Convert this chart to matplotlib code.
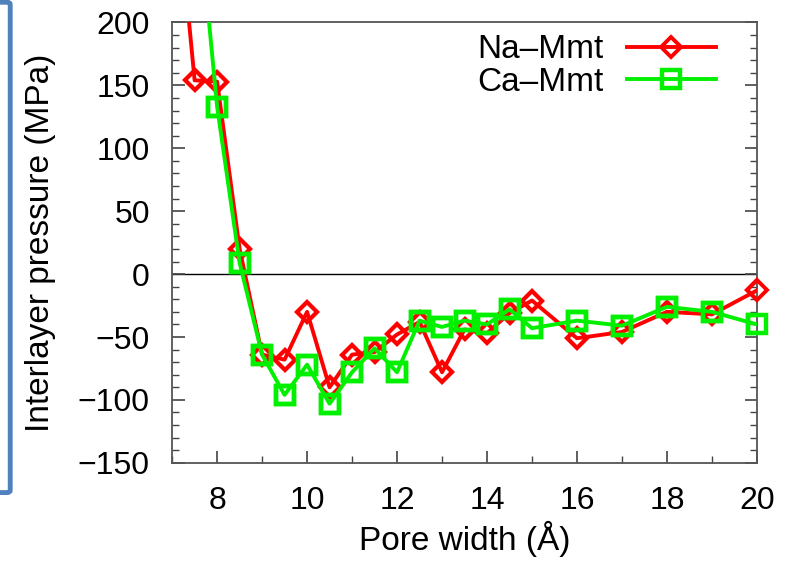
import matplotlib
matplotlib.use('Agg')
import matplotlib.pyplot as plt
from matplotlib.patches import FancyBboxPatch
from matplotlib.ticker import MultipleLocator

plt.rcParams['font.family'] = ['Liberation Sans', 'DejaVu Sans']

# pore width (Angstrom) and interlayer pressure (MPa)
na_x = [7.0, 7.5, 8.0, 8.5, 9.0, 9.5, 10.0, 10.5, 11.0, 11.5, 12.0, 12.5, 13.0,
        13.5, 14.0, 14.5, 15.0, 16.0, 17.0, 18.0, 19.0, 20.0]
na_p = [340, 154, 153, 20, -64, -68, -30, -90, -64, -62, -48, -38, -78,
        -44, -47, -31, -21, -51, -46, -30, -32, -13]

ca_x = [7.5, 8.0, 8.5, 9.0, 9.5, 10.0, 10.5, 11.0, 11.5, 12.0, 12.5, 13.0,
        13.5, 14.0, 14.5, 15.0, 16.0, 17.0, 18.0, 19.0, 20.0]
ca_p = [320, 133, 9, -64, -96, -72, -103, -78, -59, -78, -37, -42,
        -37, -40, -28, -43, -37, -41, -26, -30, -40]

x_ticks = [8, 10, 12, 14, 16, 18, 20]
y_ticks = [-150, -100, -50, 0, 50, 100, 150, 200]
y_min, y_max = -150, 200

fig = plt.figure(figsize=(7.86, 5.61), dpi=100)
ax = fig.add_axes([0.219, 0.175, 0.744, 0.785])

ax.axhline(0, color='black', lw=1.0, zorder=1)

series = [
    (na_x, na_p, '#ff0000', 'D', 10, 2.8, 'Na\u2013Mmt', 3),
    (ca_x, ca_p, '#00f000', 's', 13, 3.2, 'Ca\u2013Mmt', 4),
]
for xs, ps, col, mk, ms, mew, lab, z in series:
    ax.plot(xs, ps, color=col, lw=2.8, marker=mk, markersize=ms,
            markerfacecolor='none', markeredgewidth=mew, label=lab, zorder=z)
    # markers inside the y range are drawn unclipped so the ones on the frame show whole
    keep = [i for i, p in enumerate(ps) if y_min <= p <= y_max]
    ax.plot([xs[i] for i in keep], [ps[i] for i in keep], ls='none', marker=mk,
            markersize=ms, markerfacecolor='none', markeredgecolor=col,
            markeredgewidth=mew, clip_on=False, zorder=z)

ax.set_xlim(7, 20)
ax.set_ylim(y_min, y_max)
ax.set_xticks(x_ticks)
ax.set_yticks(y_ticks)
ax.xaxis.set_minor_locator(MultipleLocator(1))
ax.yaxis.set_minor_locator(MultipleLocator(10))
ax.tick_params(which='both', direction='in', top=False, right=True,
               labelsize=23, color='#444444')
ax.tick_params(axis='y', pad=16)
ax.tick_params(axis='x', pad=17)
ax.tick_params(which='major', length=9, width=1.2)
ax.tick_params(which='minor', length=5, width=1.0)
for s in ax.spines.values():
    s.set_color('#555555')
    s.set_linewidth(1.3)

ax.set_xlabel('Pore width (\u00c5)', fontsize=24, labelpad=3)
ax.set_ylabel('Interlayer pressure (MPa)', fontsize=24, labelpad=16)

ax.legend(loc='upper right', frameon=False, fontsize=24, markerfirst=False,
          handlelength=2.65, handletextpad=0.7, labelspacing=0.05,
          borderaxespad=0.0, bbox_to_anchor=(0.952, 1.003))

# blue bracket at the left edge of the slide
box = FancyBboxPatch((-0.05, 0.122), 0.063, 0.874, boxstyle='round,pad=0,rounding_size=0.004',
                     transform=fig.transFigure, fill=False, edgecolor='#4f81bd',
                     lw=3.5, clip_on=False)
fig.patches.append(box)

fig.savefig('out.png', dpi=100)
